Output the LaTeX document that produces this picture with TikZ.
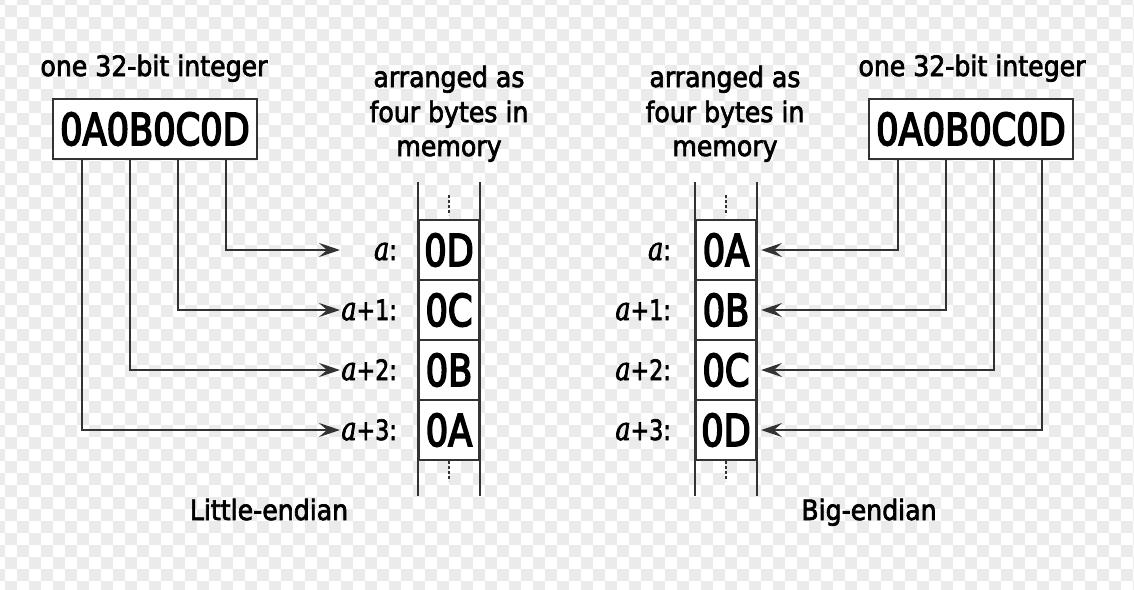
\documentclass[tikz,border=0pt]{standalone}
\usepackage{fontspec}
\IfFontExistsTF{DejaVu Sans Condensed}{%
  \setmainfont{DejaVu Sans Condensed}%
  \newcommand\hexsx{0.89}\newcommand\txtsx{1}%
}{%
  \setmainfont{DejaVu Sans}%
  \newcommand\hexsx{0.8}\newcommand\txtsx{0.9}%
}
\IfFontExistsTF{DejaVu Serif Condensed}{%
  \newfontfamily\serifit{DejaVu Serif Condensed}%
}{%
  \newfontfamily\serifit{DejaVu Serif}%
}
\usetikzlibrary{arrows.meta}
\definecolor{checker}{HTML}{EBEBEB}
\definecolor{ink}{HTML}{333333}
\newcommand\hexbig[1]{\scalebox{\hexsx}[1]{\fontsize{44}{44}\selectfont\addfontfeatures{FakeBold=4}#1}}
\newcommand\captxt[1]{\scalebox{\txtsx}[1]{\addfontfeatures{FakeBold=2.5}#1}}
\newcommand\addr[1]{\scalebox{0.88}[1]{\scalebox{1.15}{\serifit\itshape\addfontfeatures{FakeBold=2.5}a}\addfontfeatures{FakeBold=2.5}#1}}
\tikzset{
  wire/.style={draw=ink, line width=2pt, -{Stealth[length=21pt,width=14pt,inset=8pt]}},
  plain/.style={draw=ink, line width=2pt},
  hexbox/.style={draw=ink, line width=1.8pt, fill=white, minimum width=204pt, minimum height=60pt, inner sep=0pt},
  cell/.style={draw=ink, line width=1.8pt, fill=white, minimum width=60pt, minimum height=60pt, inner sep=0pt},
  caption/.style={font=\fontsize{28}{35}\selectfont, inner sep=0pt, text=black},
  addrlab/.style={font=\fontsize{28}{28}\selectfont, inner sep=0pt, anchor=base east},
  dots/.style={draw=ink, line width=1.5pt, dash pattern=on 3pt off 2pt},
}
\begin{document}
\begin{tikzpicture}[x=1pt,y=-1pt]
\useasboundingbox (0,0) rectangle (1134,589);
% transparency checkerboard
\begin{scope}
\clip (0,0) rectangle (1134,589);
\foreach \i in {0,...,95}{
  \foreach \j in {0,...,50}{
    \pgfmathtruncatemacro{\parity}{mod(\i+\j,2)}
    \ifnum\parity=0 \fill[checker] (-7+12*\i,-7+12*\j) rectangle ++(12,12);\fi
  }
}
\end{scope}

% ---------- Little-endian ----------
\node[caption, anchor=base] (titleL) at (154,76) {\captxt{one 32-bit integer}};
\node[hexbox] (boxL) at (155,129) {\hexbig{0A0B0C0D}};
\node[caption, anchor=base] (arrL1) at (449,87) {\captxt{arranged as}};
\node[caption, anchor=base] (arrL2) at (449,122) {\captxt{four bytes in}};
\node[caption, anchor=base] (arrL3) at (449,156) {\captxt{memory}};

\node[cell] (cL1) at (449,250) {\hexbig{0D}};
\node[cell] (cL2) at (449,310) {\hexbig{0C}};
\node[cell] (cL3) at (449,370) {\hexbig{0B}};
\node[cell] (cL4) at (449,430) {\hexbig{0A}};
\draw[plain] ([yshift=37pt]cL1.north west) -- ([yshift=-35pt]cL4.south west);
\draw[plain] ([yshift=37pt]cL1.north east) -- ([yshift=-35pt]cL4.south east);
\draw[dots] ([yshift=24pt]cL1.north) -- ([yshift=4pt]cL1.north);
\draw[dots] (cL4.south) -- ([yshift=-20pt]cL4.south);

\node[addrlab] (lL1) at (397,260) {\addr{:}};
\node[addrlab] (lL2) at (397,320) {\addr{+1:}};
\node[addrlab] (lL3) at (397,380) {\addr{+2:}};
\node[addrlab] (lL4) at (397,440) {\addr{+3:}};

\coordinate (tL1) at (340,250);
\coordinate (tL2) at (340,310);
\coordinate (tL3) at (340,370);
\coordinate (tL4) at (340,430);
\draw[wire] ([xshift=174pt]boxL.south west) |- (tL1);
\draw[wire] ([xshift=126pt]boxL.south west) |- (tL2);
\draw[wire] ([xshift=78pt]boxL.south west) |- (tL3);
\draw[wire] ([xshift=30pt]boxL.south west) |- (tL4);

\node[caption, anchor=base] (nameL) at (269,520) {\captxt{Little-endian}};

% ---------- Big-endian ----------
\node[caption, anchor=base] (titleR) at (972,76) {\captxt{one 32-bit integer}};
\node[hexbox] (boxR) at (971,129) {\hexbig{0A0B0C0D}};
\node[caption, anchor=base] (arrR1) at (725,87) {\captxt{arranged as}};
\node[caption, anchor=base] (arrR2) at (725,122) {\captxt{four bytes in}};
\node[caption, anchor=base] (arrR3) at (725,156) {\captxt{memory}};

\node[cell] (cR1) at (726,250) {\hexbig{0A}};
\node[cell] (cR2) at (726,310) {\hexbig{0B}};
\node[cell] (cR3) at (726,370) {\hexbig{0C}};
\node[cell] (cR4) at (726,430) {\hexbig{0D}};
\draw[plain] ([yshift=37pt]cR1.north west) -- ([yshift=-35pt]cR4.south west);
\draw[plain] ([yshift=37pt]cR1.north east) -- ([yshift=-35pt]cR4.south east);
\draw[dots] ([yshift=24pt]cR1.north) -- ([yshift=4pt]cR1.north);
\draw[dots] (cR4.south) -- ([yshift=-20pt]cR4.south);

\node[addrlab] (lR1) at (671,260) {\addr{:}};
\node[addrlab] (lR2) at (671,320) {\addr{+1:}};
\node[addrlab] (lR3) at (671,380) {\addr{+2:}};
\node[addrlab] (lR4) at (671,440) {\addr{+3:}};

\coordinate (tR1) at (761,250);
\coordinate (tR2) at (761,310);
\coordinate (tR3) at (761,370);
\coordinate (tR4) at (761,430);
\draw[wire] ([xshift=30pt]boxR.south west) |- (tR1);
\draw[wire] ([xshift=78pt]boxR.south west) |- (tR2);
\draw[wire] ([xshift=126pt]boxR.south west) |- (tR3);
\draw[wire] ([xshift=174pt]boxR.south west) |- (tR4);

\node[caption, anchor=base] (nameR) at (869,520) {\captxt{Big-endian}};
\end{tikzpicture}
\end{document}
